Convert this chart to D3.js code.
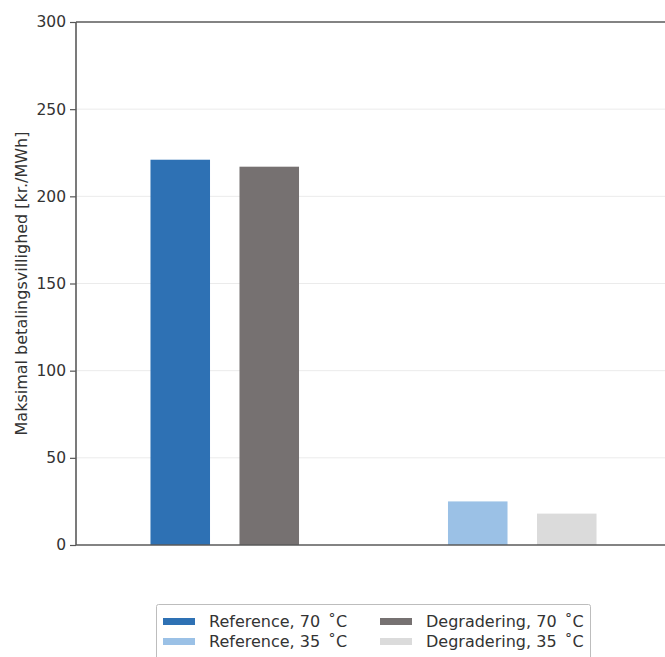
<!DOCTYPE html>
<html>
<head>
<meta charset="utf-8">
<script src="https://cdn.jsdelivr.net/npm/d3@7"></script>
<style>
  html, body { margin: 0; padding: 0; background: #fff; }
  svg { display: block; font-family: "DejaVu Sans", sans-serif; }
</style>
</head>
<body>
<svg id="chart" width="665" height="657"></svg>
<script>
// Temperature groups and scenarios
const groups = ["70", "35"];
const scenarios = ["Reference", "Degradering"];

// Willingness to pay [kr./MWh] per scenario, in group order
const referenceValues = [221, 25];
const degraderingValues = [217, 18];

// Axis ticks
const yTicks = [0, 50, 100, 150, 200, 250, 300];

// Bar fill per group and scenario
const fills = {
  "70": { Reference: "#2e71b4", Degradering: "#767171" },
  "35": { Reference: "#9bc1e6", Degradering: "#dbdbdb" }
};

const bars = [];
groups.forEach((g, i) => {
  bars.push({ group: g, scenario: "Reference", value: referenceValues[i] });
  bars.push({ group: g, scenario: "Degradering", value: degraderingValues[i] });
});

const svg = d3.select("#chart");
const margin = { left: 76, top: 22, bottom: 545, right: 671 };

const y = d3.scaleLinear().domain([0, 300]).range([margin.bottom, margin.top]);
const x = d3.scalePoint().domain(groups).range([margin.left, margin.right]).padding(0.5);
const xInner = d3.scaleBand().domain(scenarios).range([-89, 89])
  .paddingInner(0.331).paddingOuter(0.1655);

// Horizontal grid
svg.append("g")
  .selectAll("line")
  .data(yTicks.filter(t => t > 0 && t < 300))
  .join("line")
  .attr("x1", margin.left).attr("x2", 665)
  .attr("y1", d => y(d)).attr("y2", d => y(d))
  .attr("stroke", "#ebebeb").attr("stroke-width", 1);

// Bars
svg.append("g")
  .selectAll("rect")
  .data(bars)
  .join("rect")
  .attr("x", d => x(d.group) + xInner(d.scenario))
  .attr("width", xInner.bandwidth())
  .attr("y", d => y(d.value))
  .attr("height", d => y(0) - y(d.value))
  .attr("fill", d => fills[d.group][d.scenario]);

// Left axis
const yAxis = d3.axisLeft(y).tickValues(yTicks).tickSize(6).tickPadding(4);
const gy = svg.append("g").attr("transform", `translate(${margin.left},0)`).call(yAxis);
gy.select(".domain").remove();
gy.selectAll(".tick line").attr("stroke", "#555").attr("stroke-width", 1.2);
gy.selectAll(".tick text").attr("fill", "#333").style("font-size", "15.5px")
  .style("font-family", "'DejaVu Sans', sans-serif");

// Spines: left, top, bottom
const spine = svg.append("g").attr("stroke", "#5a5a5a").attr("stroke-width", 1.6).attr("fill", "none");
spine.append("line").attr("x1", margin.left).attr("x2", margin.left).attr("y1", y(300)).attr("y2", y(0));
spine.append("line").attr("x1", margin.left).attr("x2", 665).attr("y1", y(300)).attr("y2", y(300));
spine.append("line").attr("x1", margin.left).attr("x2", 665).attr("y1", y(0)).attr("y2", y(0));

// Y-axis title
svg.append("text")
  .attr("transform", `translate(27,${(margin.top + margin.bottom) / 2}) rotate(-90)`)
  .attr("text-anchor", "middle")
  .attr("fill", "#333")
  .style("font-size", "16px")
  .text("Maksimal betalingsvillighed [kr./MWh]");

// Legend
const legendItems = [
  { label: "Reference, 70\u2002\u02DAC", fill: fills["70"].Reference, col: 0, row: 0 },
  { label: "Reference, 35\u2002\u02DAC", fill: fills["35"].Reference, col: 0, row: 1 },
  { label: "Degradering, 70\u2002\u02DAC", fill: fills["70"].Degradering, col: 1, row: 0 },
  { label: "Degradering, 35\u2002\u02DAC", fill: fills["35"].Degradering, col: 1, row: 1 }
];
const legend = svg.append("g");
legend.append("rect")
  .attr("x", 156.5).attr("y", 604.5).attr("width", 434).attr("height", 70)
  .attr("rx", 2).attr("fill", "#fff").attr("stroke", "#bdbdbd").attr("stroke-width", 1);
const colX = [163, 380];
const rowY = [621.5, 641.5];
const li = legend.selectAll("g.item").data(legendItems).join("g").attr("class", "item")
  .attr("transform", d => `translate(${colX[d.col]},${rowY[d.row]})`);
li.append("rect").attr("x", 0).attr("y", -3.5).attr("width", 32).attr("height", 7).attr("fill", d => d.fill);
li.append("text").attr("x", 46).attr("y", 0).attr("dy", "0.35em")
  .attr("fill", "#333").style("font-size", "16px")
  .text(d => d.label);
</script>
</body>
</html>
